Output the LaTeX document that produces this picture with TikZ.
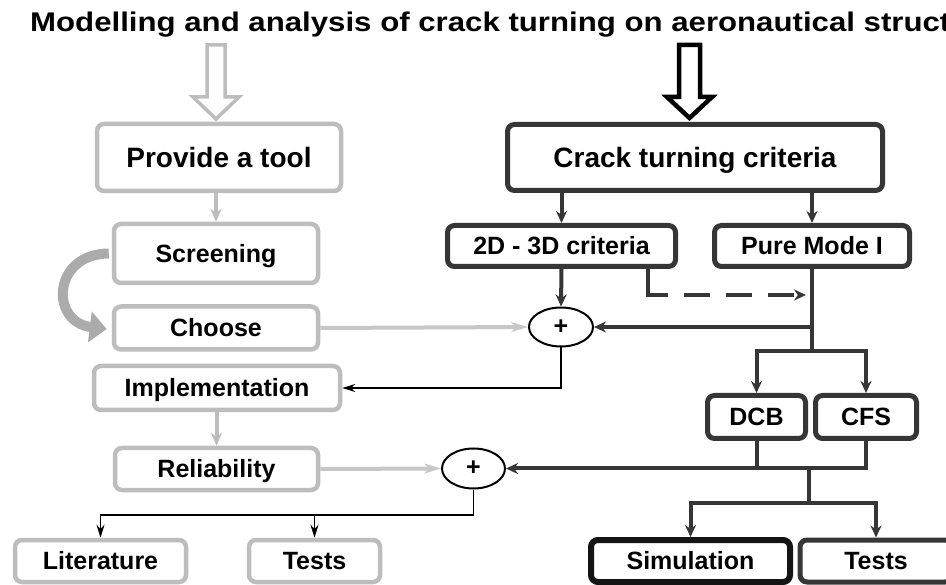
\documentclass[tikz,border=0pt]{standalone}
\usepackage{fontspec}
\setmainfont{Liberation Sans}
\usetikzlibrary{arrows.meta,calc,shapes.geometric}
\definecolor{lg}{HTML}{BDBDBD}
\definecolor{dk}{HTML}{363636}
\definecolor{cg}{HTML}{ABABAB}
\begin{document}
\begin{tikzpicture}[x=1pt,y=-1pt,
 box/.style={rectangle,rounded corners=7pt,align=center,text=black,
   font=\fontsize{25}{30}\selectfont\bfseries,inner sep=0pt,
   text height=17.9pt,text depth=0pt},
 gbox/.style={box,draw=lg,line width=4.5pt},
 dbox/.style={box,draw=dk,line width=5pt},
 bigtext/.style={font=\fontsize{28}{33}\selectfont\bfseries,text height=20pt},
 pl/.style={ellipse,draw=black,line width=2pt,inner sep=0pt,
   font=\fontsize{25}{30}\selectfont\bfseries},
 garr/.style={draw=lg,line width=4pt,-{Stealth[length=13pt,width=11pt]}},
 garrh/.style={draw=lg!85,line width=4pt,-{Stealth[length=17pt,width=10pt]}},
 darr/.style={draw=dk,line width=4pt,-{Stealth[length=12pt,width=11pt]}},
 dline/.style={draw=dk,line width=4pt},
 dboth/.style={dline,{Stealth[length=12pt,width=11pt]}-{Stealth[length=12pt,width=11pt]}},
 tarr/.style={draw=black,line width=1.8pt,-{Stealth[length=13pt,width=8pt]}},
]
\useasboundingbox (0,0) rectangle (946,585);
\clip (0,0) rectangle (946,585);
\fill[white] (0,0) rectangle (946,585);

% title
\node[anchor=base west,inner sep=0pt] (title) at (30,32)
  {\scalebox{1.155}[1]{\fontsize{27}{32}\selectfont\bfseries Modelling and analysis of crack turning on aeronautical struct}};

% boxes
\node[gbox,bigtext,minimum width=244pt,minimum height=67pt] (prov) at (219,157.5) {Provide a tool};
\node[dbox,bigtext,minimum width=375pt,minimum height=66pt] (crack) at (695,157.5) {Crack turning criteria};
\node[gbox,minimum width=204pt,minimum height=59pt] (scr) at (216,253.5) {Screening};
\node[gbox,minimum width=204pt,minimum height=43pt] (cho) at (216,328) {Choose};
\node[gbox,minimum width=246pt,minimum height=44pt] (imp) at (217,388) {Implementation};
\node[gbox,minimum width=203pt,minimum height=42pt] (rel) at (216.5,469) {Reliability};
\node[gbox,minimum width=171pt,minimum height=42pt] (lit) at (100.5,561) {Literature};
\node[gbox,minimum width=131pt,minimum height=42pt] (tl) at (314.5,561) {Tests};
\node[dbox,minimum width=228pt,minimum height=41pt] (d23) at (561.5,246) {2D - 3D criteria};
\node[dbox,minimum width=195pt,minimum height=41pt] (pure) at (812,246) {Pure Mode I};
\node[pl,minimum width=64pt,minimum height=39pt] (p1) at (561,327) {+};
\node[dbox,minimum width=98pt,minimum height=43pt] (dcb) at (756.5,417) {DCB};
\node[dbox,minimum width=101pt,minimum height=43pt] (cfs) at (866,417) {CFS};
\node[pl,minimum width=63pt,minimum height=40pt] (p2) at (473.5,468.5) {+};
\node[box,draw=black!92,line width=6pt,minimum width=199pt,minimum height=42pt] (sim) at (690.5,561) {Simulation};
\node[dbox,minimum width=152pt,minimum height=42pt] (tr) at (876,561) {Tests};

% hollow arrows from the title
\coordinate (a1) at (216,45);
\coordinate (a2) at (689.5,45);
\draw[lg,line width=3.5pt,line join=miter] (a1) ++(-9,0) -- ++(18,0) -- ++(0,52) -- ++(14,0)
  -- ++(-23,22) -- ++(-23,-22) -- ++(14,0) -- cycle;
\draw[black,line width=4.5pt,line join=miter] (a2) ++(-10.5,0) -- ++(21,0) -- ++(0,52) -- ++(12,0)
  -- ++(-22.5,21) -- ++(-22.5,-21) -- ++(12,0) -- cycle;

% left column
\draw[garr] (prov.south -| scr.north) -- (scr.north);
\draw[draw=cg,line width=10pt,-{Triangle[length=17pt,width=30pt]}]
  ($(scr.west)+(-3,0)$) .. controls (52,254) and (50,322) .. ($(cho.west)+(-5,1)$);
\draw[garrh] (cho.east) -- (p1.west);
\draw[tarr] (p1.south) |- (imp.east);
\draw[garr] (imp.south -| rel.north) -- (rel.north);
\draw[garrh] (rel.east) -- (p2.west);
\coordinate (j4) at (100,515);
\draw[tarr] (p2.south) |- (lit.north |- j4) -- (lit.north);
\draw[tarr] (tl.north |- j4) -- (tl.north);

% right column
\draw[darr] (crack.south -| d23.north) -- (d23.north);
\draw[darr] (crack.south -| pure.north) -- (pure.north);
\draw[darr] (d23.south) -- (p1.north);
\coordinate (ds) at ($(d23.south east)+(-30,0)$);
\coordinate (dsm) at (668,295);
\coordinate (dsn) at (684,295);
\coordinate (dse) at (806,295);
\draw[dline] (ds) |- (dsm);
\draw[darr,dash pattern=on 26pt off 16pt] (dsn) -- (dse);
\coordinate (j1) at (812,351);
\draw[dline] (pure.south) -- (j1);
\draw[darr] (pure.south |- p1.east) -- (p1.east);
\draw[dboth] (dcb.north) -- (dcb.north |- j1) -- (cfs.north |- j1) -- (cfs.north);
\draw[dline] (dcb.south) -- (dcb.south |- p2.east);
\draw[darr] (cfs.south) |- (p2.east);
\coordinate (j2) at (809,468.5);
\coordinate (j3) at (809,503);
\draw[dline] (j2) -- (j3);
\draw[dboth] (sim.north) -- (sim.north |- j3) -- (tr.north |- j3) -- (tr.north);
\end{tikzpicture}
\end{document}
